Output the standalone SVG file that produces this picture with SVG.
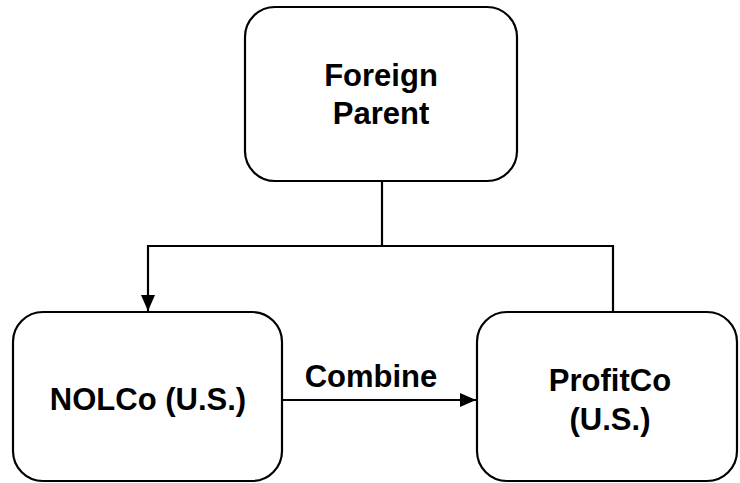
<svg xmlns="http://www.w3.org/2000/svg" width="740" height="483" viewBox="0 0 740 483">
  <style>
    .box { fill: #ffffff; stroke: #000000; stroke-width: 2.2; }
    .lbl { font-family: "Liberation Sans", Arial, sans-serif; font-weight: bold; font-size: 31px; fill: #000000; text-anchor: middle; }
    .wire { fill: none; stroke: #000000; stroke-width: 2.2; }
  </style>
  <defs>
    <marker id="arrow" viewBox="0 0 10 10" refX="10" refY="5" markerWidth="7" markerHeight="7" markerUnits="userSpaceOnUse" orient="auto">
      <path d="M0,0 L10,5 L0,10 Z" fill="#000000"/>
    </marker>
    <marker id="head" viewBox="0 0 16 14" refX="16" refY="7" markerWidth="16" markerHeight="14" markerUnits="userSpaceOnUse" orient="auto">
      <path d="M0,0 L16,7 L0,14 Z" fill="#000000"/>
    </marker>
  </defs>

  <g id="connectors">
    <path class="wire" d="M382,181 V246"/>
    <path class="wire" d="M382,246 H148 V311" marker-end="url(#head)"/>
    <path class="wire" d="M382,246 H613 V312"/>
    <path class="wire" d="M282,400 H476" marker-end="url(#head)"/>
    <text class="lbl" x="371" y="387">Combine</text>
  </g>

  <g id="foreign-parent">
    <rect class="box" x="245" y="7" width="272" height="174" rx="30" ry="30"/>
    <text class="lbl" x="381" y="86">Foreign</text>
    <text class="lbl" x="381" y="124">Parent</text>
  </g>

  <g id="nolco">
    <rect class="box" x="13" y="312" width="269" height="169" rx="30" ry="30"/>
    <text class="lbl" x="148" y="410">NOLCo (U.S.)</text>
  </g>

  <g id="profitco">
    <rect class="box" x="477" y="312" width="260" height="169" rx="30" ry="30"/>
    <text class="lbl" x="610" y="391">ProfitCo</text>
    <text class="lbl" x="610" y="430">(U.S.)</text>
  </g>
</svg>
